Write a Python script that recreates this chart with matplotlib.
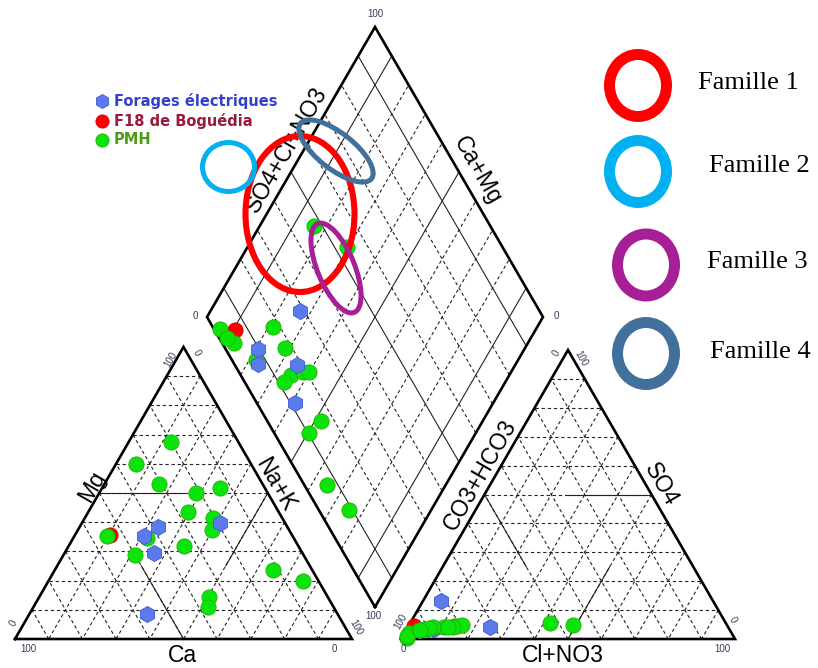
import numpy as np
import matplotlib
matplotlib.use('Agg')
import matplotlib.pyplot as plt
from matplotlib.patches import Ellipse

# ---------------- data (percent of meq) ----------------
group_names = ['Forages électriques', 'F18 de Boguédia', 'PMH']

# F18 de Boguédia (red)
red_ca = [54.0]
red_mg = [35.6]
red_nak = [10.4]
red_so4 = [4.5]
red_cl = [1.5]

# PMH (green)
pmh_ca = [19.9, 34.1, 30.7, 13.3, 21.3, 26.9, 20.6, 22.9, 55.0, 34.0, 50.0, 11.7, 4.6, 35.2, 37.2, 43.5]
pmh_mg = [67.5, 59.9, 53.1, 51.7, 50.0, 43.5, 41.4, 37.3, 35.3, 31.8, 28.8, 23.6, 19.9, 14.4, 11.0, 34.6]
pmh_nak = [12.6, 6.0, 16.2, 35.0, 28.7, 29.6, 38.0, 39.8, 9.7, 34.2, 21.2, 64.7, 75.5, 50.4, 51.8, 21.9]
pmh_so4 = [2.0, 0.5, 5.5, 4.0, 4.5, 4.8, 4.5, 4.8, 1.0, 4.0, 4.3, 3.0, 3.5, 3.8, 4.2, 3.0]
pmh_cl = [1.5, 1.5, 42.0, 11.0, 13.5, 49.0, 14.5, 16.0, 1.4, 7.7, 13.5, 3.9, 5.4, 6.6, 11.9, 4.2]

# Forages électriques (blue)
for_ca = [38.3, 44.0, 44.0, 19.3, 56.5]
for_mg = [38.4, 35.3, 29.5, 39.7, 8.6]
for_nak = [23.3, 20.7, 26.5, 41.0, 34.9]
for_so4 = [3.0, 3.5, 4.2, 3.5, 13.0]
for_cl = [4.1, 6.2, 24.5, 8.0, 5.5]

famille_labels = ['Famille 1', 'Famille 2', 'Famille 3', 'Famille 4']
famille_colors = ['#ff0000', '#00b0f0', '#a61f96', '#41709c']

# ---------------- geometry (pixel frame) ----------------
W, H = 818, 668
CAT_CA, CAT_NAK, CAT_MG = np.array([15, 639.]), np.array([352, 639.]), np.array([183.5, 347.])
AN_HCO3, AN_CL, AN_SO4 = np.array([401, 639.]), np.array([735, 639.]), np.array([568, 350.])
D_B, D_L, D_R, D_T = np.array([375, 607.]), np.array([207, 317.]), np.array([543, 317.]), np.array([375, 27.])

fig = plt.figure(figsize=(8.18, 6.68), dpi=100)
ax = fig.add_axes([0, 0, 1, 1])
ax.set_xlim(0, W)
ax.set_ylim(H, 0)
ax.axis('off')

DASH = dict(color='#222222', lw=0.8, ls=(0, (3.0, 2.5)), zorder=1)
THIN = dict(color='#222222', lw=0.8, zorder=1.5)
EDGE = dict(color='black', lw=1.9, zorder=2, solid_joinstyle='miter')


def seg(p, q, **kw):
    ax.plot([p[0], q[0]], [p[1], q[1]], **kw)


def tri_grid(A, B, C):
    for k in range(1, 10):
        f = k / 10
        for P, Q, R in ((A, B, C), (B, C, A), (C, A, B)):
            seg(P + f * (Q - P), P + f * (R - P), **DASH)
    ax.plot([A[0], B[0], C[0], A[0]], [A[1], B[1], C[1], A[1]], **EDGE)


def mid(p, q):
    return (p + q) / 2


# cation triangle
tri_grid(CAT_CA, CAT_NAK, CAT_MG)
mL, mB, mR = mid(CAT_CA, CAT_MG), mid(CAT_CA, CAT_NAK), mid(CAT_NAK, CAT_MG)
seg(mL, mid(mL, mR), **THIN)
seg(mB, mid(mB, mL), **THIN)
seg(mR, mid(mR, mB), **THIN)

# anion triangle
tri_grid(AN_HCO3, AN_CL, AN_SO4)
mL, mB, mR = mid(AN_HCO3, AN_SO4), mid(AN_HCO3, AN_CL), mid(AN_CL, AN_SO4)
seg(mR, mid(mR, mL), **THIN)
seg(mL, mid(mL, mB), **THIN)
seg(mB, mid(mB, mR), **THIN)

# diamond
for k in range(1, 10):
    f = k / 10
    style = THIN if k in (1, 5, 9) else DASH
    p = D_B + f * (D_L - D_B)
    seg(p, p + (D_R - D_B), **style)
    p = D_B + f * (D_R - D_B)
    seg(p, p + (D_L - D_B), **style)
ax.plot([D_B[0], D_L[0], D_T[0], D_R[0], D_B[0]], [D_B[1], D_L[1], D_T[1], D_R[1], D_B[1]], **EDGE)


# ---------------- projections ----------------
def cation_xy(ca, mg, nak):
    ca, mg, nak = (np.asarray(v, float) for v in (ca, mg, nak))
    s = ca + mg + nak
    return (np.outer(ca / s, CAT_CA) + np.outer(mg / s, CAT_MG) + np.outer(nak / s, CAT_NAK))


def anion_xy(so4, cl):
    so4, cl = np.asarray(so4, float) / 100, np.asarray(cl, float) / 100
    hco3 = 1 - so4 - cl
    return np.outer(hco3, AN_HCO3) + np.outer(so4, AN_SO4) + np.outer(cl, AN_CL)


def diamond_xy(ca, mg, nak, so4, cl):
    ca, mg, nak = (np.asarray(v, float) for v in (ca, mg, nak))
    a = (ca + mg) / (ca + mg + nak)
    b = (np.asarray(so4, float) + np.asarray(cl, float)) / 100
    return D_B + np.outer(a, D_L - D_B) + np.outer(b, D_R - D_B)


styles = {
    'red': dict(marker='o', s=120, c='#ff0000', edgecolors='#d00000', linewidths=0.6),
    'green': dict(marker='o', s=120, c='#0ae40a', edgecolors='#22b000', linewidths=0.6),
    'blue': dict(marker='h', s=135, c='#5b7bea', edgecolors='#3a5ad8', linewidths=0.6),
}
# zorders per panel: (cation, anion, diamond)
datasets = [
    ('red', red_ca, red_mg, red_nak, red_so4, red_cl, (5, 5, 5)),
    ('green', pmh_ca, pmh_mg, pmh_nak, pmh_so4, pmh_cl, (6, 7, 6)),
    ('blue', for_ca, for_mg, for_nak, for_so4, for_cl, (7, 6, 7)),
]
for key, ca, mg, nak, so4, cl, zs in datasets:
    panels = (cation_xy(ca, mg, nak), anion_xy(so4, cl), diamond_xy(ca, mg, nak, so4, cl))
    for pts, z in zip(panels, zs):
        ax.scatter(pts[:, 0], pts[:, 1], zorder=z, **styles[key])

# ---------------- axis labels ----------------
LBL = dict(family='Liberation Sans', fontsize=16.5, color='black', ha='center', va='center', zorder=8)
ax.text(182, 655, 'Ca', **LBL)
ax.text(92, 487, 'Mg', rotation=60, **LBL)
ax.text(275, 485, 'Na+K', rotation=-60, **LBL)
ax.text(563, 655, 'Cl+NO3', **LBL)
ax.text(480, 475, 'CO3+HCO3', rotation=60, **LBL)
ax.text(661, 485, 'SO4', rotation=-60, **LBL)
ax.text(287, 150, 'SO4+Cl+NO3', rotation=60, **LBL)
ax.text(477, 170, 'Ca+Mg', rotation=-60, **LBL)

TK = dict(family='Liberation Sans', fontsize=7, color='#3a3a5a', ha='center', va='center', zorder=8)
# cation ticks
ax.text(28, 649, '100', **TK)
ax.text(334, 649, '0', **TK)
ax.text(13, 623, '0', rotation=60, **TK)
ax.text(171, 360, '100', rotation=60, **TK)
ax.text(197, 353, '0', rotation=-60, **TK)
ax.text(356, 627, '100', rotation=-60, **TK)
# anion ticks
ax.text(403, 649, '0', **TK)
ax.text(722, 649, '100', **TK)
ax.text(401, 622, '100', rotation=60, **TK)
ax.text(556, 353, '0', rotation=60, **TK)
ax.text(581, 358, '100', rotation=-60, **TK)
ax.text(733, 620, '0', rotation=-60, **TK)
# diamond ticks
ax.text(375, 14, '100', **TK)
ax.text(195, 316, '0', **TK)
ax.text(556, 316, '0', **TK)
ax.text(373, 616, '100', **TK)

# ---------------- family ellipses on the diagram ----------------
ax.add_patch(Ellipse((300, 214), 109, 156, angle=0, fill=False, ec=famille_colors[0], lw=4.4, zorder=9))
ax.add_patch(Ellipse((228.5, 167), 52, 49, angle=0, fill=False, ec=famille_colors[1], lw=3.6, zorder=9))
ax.add_patch(Ellipse((336, 268), 96, 37, angle=67.6, fill=False, ec=famille_colors[2], lw=3.6, zorder=9))
ax.add_patch(Ellipse((336, 151), 90, 36, angle=38, fill=False, ec=famille_colors[3], lw=3.6, zorder=9))

# ---------------- family legend (right) ----------------
ring_centers = [(638, 85.5), (638, 171.5), (646, 265), (646, 353.5)]
text_pos = [(698, 83), (709, 166), (707, 262), (710, 352)]
for (cx, cy), (tx, ty), lab, col in zip(ring_centers, text_pos, famille_labels, famille_colors):
    ax.add_patch(Ellipse((cx, cy), 57, 62, fill=False, ec=col, lw=7.9, zorder=9))
    ax.text(tx, ty, lab, family='Liberation Serif', fontsize=19, color='black', ha='left', va='center', zorder=9)

# ---------------- sample legend (left) ----------------
leg_y = [101, 121, 140]
leg_keys = ['blue', 'red', 'green']
leg_text_colors = ['#3340cc', '#991a3a', '#4e9a18']
for y, key, name, tc in zip(leg_y, leg_keys, group_names, leg_text_colors):
    st = dict(styles[key])
    st['s'] = st['s'] * 0.75
    ax.scatter([101.5], [y], zorder=10, **st)
    ax.text(114, y, name, family='DejaVu Sans', fontweight='bold', fontsize=10.5, color=tc,
            ha='left', va='center', zorder=10)

fig.savefig('out.png', dpi=100)
